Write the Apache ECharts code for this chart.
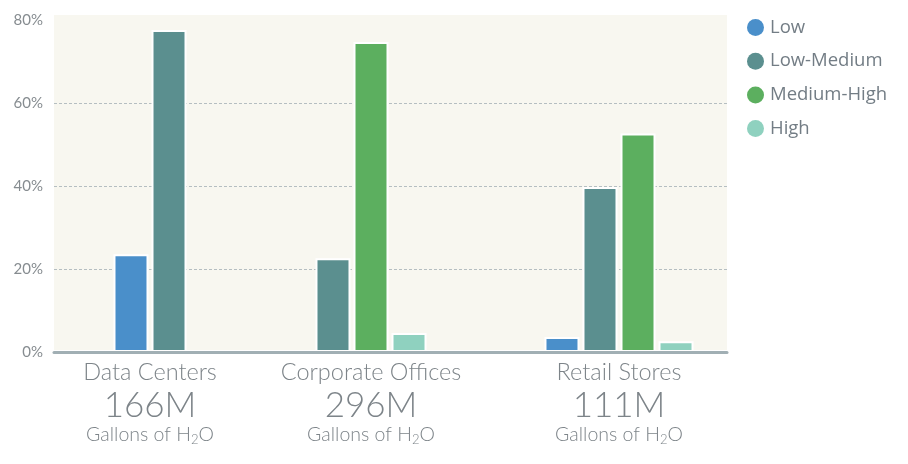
<!DOCTYPE html>
<html>
<head>
<meta charset="utf-8">
<script src="https://cdn.jsdelivr.net/npm/echarts@6/dist/echarts.min.js"></script>
<style>
html,body{margin:0;padding:0;background:#ffffff;}
#chart{width:908px;height:464px;}
</style>
</head>
<body>
<div id="chart"></div>
<script>
// ---- data ----
var categories = ['Data Centers', 'Corporate Offices', 'Retail Stores'];
var totals = ['166M', '296M', '111M'];
var unitLabel = 'Gallons of H';
var levels = ['Low', 'Low-Medium', 'Medium-High', 'High'];
var lowValues = [23.6, null, 3.6];
var lowMediumValues = [77.7, 22.6, 39.8];
var mediumHighValues = [null, 74.8, 52.7];
var highValues = [null, 4.6, 2.6];
var yTicks = [0, 20, 40, 60, 80];

// ---- styling ----
var levelColors = ['#4a8fca', '#5b8f8f', '#5caf5f', '#8fd1bf'];
var valuesByLevel = [lowValues, lowMediumValues, mediumHighValues, highValues];
var groupCenters = [150, 371, 619];
var groupWidths = [192, 250, 245];
var plotTop = 20.5, plotBottom = 112;
var textColor = '#7d8489';
var lightFont = "'Lato', 'Open Sans', sans-serif";

var chart = echarts.init(document.getElementById('chart'), null, {renderer: 'canvas'});

var grids = [
  {left: 54, right: 181, top: 15, bottom: 114, show: true, backgroundColor: '#f8f7f0', borderWidth: 0},
  {left: 54, right: 181, top: plotTop, bottom: plotBottom}
];
var xAxes = [
  {gridIndex: 0, type: 'category', data: [''], show: false},
  {gridIndex: 1, type: 'category', data: [''], axisTick: {show: false}, axisLabel: {show: false},
   axisLine: {lineStyle: {color: '#a1afb4', width: 3}}, z: 5}
];
var yAxes = [
  {gridIndex: 0, type: 'value', show: false, splitLine: {show: false}},
  {gridIndex: 1, type: 'value', min: yTicks[0], max: yTicks[yTicks.length - 1], interval: 20,
   axisLine: {show: false}, axisTick: {show: false},
   axisLabel: {formatter: '{value}%', color: '#868c90', fontSize: 15, fontFamily: lightFont, margin: 11},
   splitLine: {show: true, showMinLine: false, showMaxLine: false,
     lineStyle: {color: '#b5bec1', width: 1, type: [3, 2]}}}
];

var series = [];
categories.forEach(function (cat, i) {
  var gi = grids.length;
  var w = groupWidths[i];
  grids.push({left: groupCenters[i] - w / 2, width: w, top: plotTop, bottom: plotBottom});
  xAxes.push({
    gridIndex: gi, type: 'category', data: [cat],
    axisLine: {show: false}, axisTick: {show: false},
    axisLabel: {
      margin: 5, interval: 0,
      formatter: function (v) {
        return '{cat|' + v + '}\n{num|' + totals[i] + '}\n{gal|' + unitLabel + '}{sub|2}{gal|O}';
      },
      rich: {
        cat: {fontSize: 23.5, lineHeight: 30, color: textColor, fontFamily: lightFont, fontWeight: 300},
        num: {fontSize: 35, lineHeight: 38, color: textColor, fontFamily: lightFont, fontWeight: 300},
        gal: {fontSize: 19.5, lineHeight: 20, color: textColor, fontFamily: lightFont, fontWeight: 300},
        sub: {fontSize: 13, lineHeight: 20, color: textColor, fontFamily: lightFont, fontWeight: 300, padding: [10, 0, 0, 0]}
      }
    }
  });
  yAxes.push({gridIndex: gi, type: 'value', min: yTicks[0], max: yTicks[yTicks.length - 1], show: false, splitLine: {show: false}});
  levels.forEach(function (lv, j) {
    var v = valuesByLevel[j][i];
    if (v === null || v === undefined) return;
    series.push({
      type: 'bar', name: lv, xAxisIndex: gi, yAxisIndex: gi,
      data: [v], barWidth: 35, barGap: '8.6%',
      itemStyle: {color: levelColors[j], borderColor: '#ffffff', borderWidth: 2},
      emphasis: {disabled: true}
    });
  });
});

chart.setOption({
  animation: false,
  grid: grids,
  xAxis: xAxes,
  yAxis: yAxes,
  legend: {
    orient: 'vertical', left: 742, top: 13, itemGap: 14.7,
    itemWidth: 17, itemHeight: 17, icon: 'circle',
    data: levels.map(function (lv, j) { return {name: lv, itemStyle: {color: levelColors[j], borderWidth: 0}}; }),
    textStyle: {fontSize: 18.5, color: '#737d85', fontFamily: "'Open Sans', sans-serif", padding: [0, 0, 0, 1]},
    selectedMode: false
  },
  series: series
});
</script>
</body>
</html>
